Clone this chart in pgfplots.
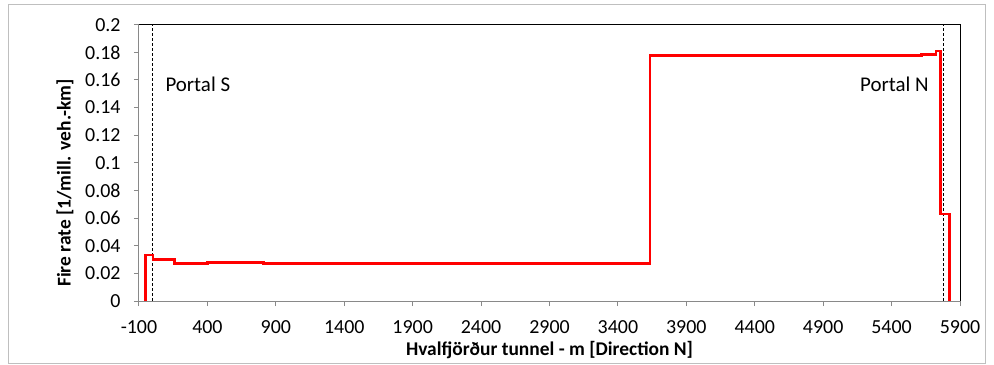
\documentclass[border=0pt]{standalone}
\usepackage{fontspec}
\setmainfont{Carlito}
\usepackage{pgfplots}
\pgfplotsset{compat=1.18}
\definecolor{frameg}{RGB}{191,191,191}
\definecolor{axg}{RGB}{137,137,137}
\begin{document}
\begin{tikzpicture}
\begin{axis}[
  scale only axis, width=821bp, height=276.3bp,
  xmin=-100, xmax=5900, ymin=0, ymax=0.2,
  xtick={-100,400,900,1400,1900,2400,2900,3400,3900,4400,4900,5400,5900},
  xticklabels={-100,400,900,1400,1900,2400,2900,3400,3900,4400,4900,5400,5900},
  ytick={0,0.02,0.04,0.06,0.08,0.1,0.12,0.14,0.16,0.18,0.2},
  yticklabels={0,0.02,0.04,0.06,0.08,0.1,0.12,0.14,0.16,0.18,0.2},
  tick align=outside, xtick pos=bottom, ytick pos=left,
  major tick length=5bp,
  tick style={axg, line width=1bp},
  axis line style={axg, line width=1bp},
  tick label style={font=\fontsize{20}{22}\selectfont},
  xticklabel style={yshift=-11bp},
  yticklabel style={xshift=-10bp},
  clip=false,
]
\addplot[black, line width=0.9bp, dash pattern=on 3bp off 2bp] coordinates {(0,0) (0,0.2)};
\addplot[black, line width=0.9bp, dash pattern=on 3bp off 2bp] coordinates {(5777,0) (5777,0.2)};
\addplot[red, line width=2.8bp, line join=miter] coordinates {
(-54,0) (-54,0.0333) (2,0.0333) (2,0.030) (160,0.030) (160,0.027) (400,0.027) (400,0.028)
(812,0.028) (812,0.027) (3635,0.027) (3635,0.1775) (5620,0.1775) (5620,0.1786)
(5724,0.1786) (5724,0.181) (5760,0.181) (5760,0.063) (5821,0.063) (5821,0)
};
\draw[black, line width=1bp] (rel axis cs:0,1) -- (rel axis cs:1,1) -- (rel axis cs:1,0);
\node[anchor=west, font=\fontsize{21}{24}\selectfont] at (axis cs:68,0.157) {Portal S};
\node[anchor=east, font=\fontsize{21}{24}\selectfont] at (axis cs:5697,0.157) {Portal N};
\node[anchor=base, font=\bfseries\fontsize{19.5}{22}\selectfont] at (axis description cs:0.5,-0.199) {Hvalfjörður tunnel - m [Direction N]};
\node[rotate=90, anchor=center, font=\bfseries\fontsize{19.5}{22}\selectfont] at (axis description cs:-0.0901,0.427) {Fire rate [1/mill. veh.-km]};
\end{axis}
\draw[frameg, line width=1bp] (-130bp,-62bp) rectangle (846bp,296bp);
\useasboundingbox (-139bp,-64bp) rectangle (855bp,301bp);
\end{tikzpicture}
\end{document}
